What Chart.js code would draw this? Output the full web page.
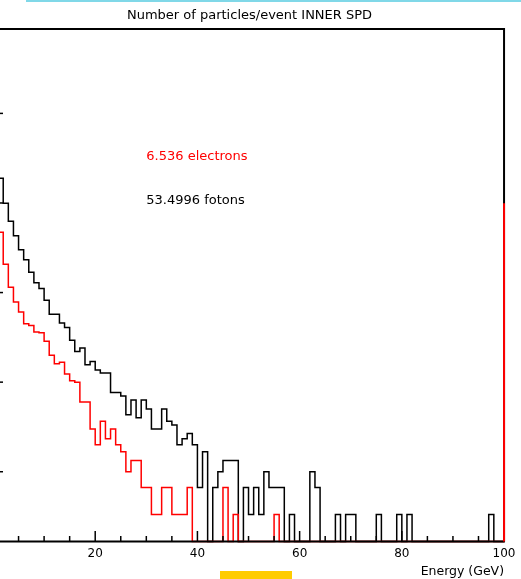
<!DOCTYPE html>
<html>
<head>
<meta charset="utf-8">
<script src="https://cdn.jsdelivr.net/npm/chart.js@4.4.0/dist/chart.umd.min.js"></script>
<style>
    html, body { margin: 0; padding: 0; background: #fff; }
    #page { position: relative; width: 521px; height: 579px; overflow: hidden; background: #fff; }
    #chart { position: absolute; left: -20px; top: 0; }
    #topLine { position: absolute; left: 26px; top: 0; width: 495px; height: 2px; background: #80d8e8; }
    #yellowBar { position: absolute; left: 220px; top: 571px; width: 72px; height: 8px; background: #ffcc00; }
</style>
</head>
<body>
<div id="page">
    <canvas id="chart" width="541" height="579"></canvas>
    <div id="topLine"></div>
    <div id="yellowBar"></div>
</div>
<script>
// 1 GeV bins from 0 to 100 GeV, counts per bin
const binEdges = Array.from({ length: 101 }, (_, i) => i)

const fotonCounts = [
    12000, 5680, 2985, 1879, 1294, 902, 698, 506, 386, 333,
    246, 172, 172, 137, 122, 88, 66, 72, 47, 51,
    41, 38, 38, 23, 23, 21, 13, 19, 12, 19,
    15, 9, 9, 15, 11, 10, 6, 7, 8, 6,
    2, 5, 0, 2, 3, 4, 4, 4, 0, 2,
    1, 2, 1, 3, 2, 2, 2, 0, 1, 0,
    0, 0, 3, 2, 0, 0, 0, 1, 0, 1,
    1, 0, 0, 0, 0, 1, 0, 0, 0, 1,
    0, 1, 0, 0, 0, 0, 0, 0, 0, 0,
    0, 0, 0, 0, 0, 0, 0, 1, 0, 0,
]

const electronCounts = [
    3500, 1416, 621, 344, 236, 182, 135, 129, 109, 107,
    86, 60, 48, 50, 37, 31, 30, 18, 18, 9,
    6, 11, 7, 9, 6, 5, 3, 4, 4, 2,
    2, 1, 1, 2, 2, 1, 1, 1, 2, 0,
    0, 0, 0, 0, 0, 2, 0, 1, 0, 0,
    0, 0, 0, 0, 0, 1, 0, 0, 0, 0,
    0, 0, 0, 0, 0, 0, 0, 0, 0, 0,
    0, 0, 0, 0, 0, 0, 0, 0, 0, 0,
    0, 0, 0, 0, 0, 0, 0, 0, 0, 0,
    0, 0, 0, 0, 0, 0, 0, 0, 0, 0,
]

// red line running up the 100 GeV edge
const electronEdge = [0, 2985]

const eventWeight = 1 / 3
const yMin = 0.1664
const yMax = 87500
const yTickValues = [1, 10, 100, 1000, 10000]
const xTickStep = 20

const title = 'Number of particles/event INNER SPD'
const electronLabel = '6.536 electrons'
const fotonLabel = '53.4996 fotons'

Chart.defaults.font.family = "'DejaVu Sans', sans-serif"
Chart.defaults.color = '#000'

/**
 * @name toSteps
 * @description Turn bin counts into points on the bin low edges.
 */
function toSteps(counts) {
    return binEdges.map(function (e, i) {
        const c = counts[Math.min(i, counts.length - 1)]
        return { x: e, y: c > 0 ? c * eventWeight : yMin }
    })
}

const rootFrame = {
    id: 'rootFrame',
    beforeDatasetsDraw(chart) {
        const ctx = chart.ctx
        const a = chart.chartArea
        ctx.save()
        ctx.strokeStyle = '#000'
        ctx.lineWidth = 2
        ctx.beginPath()
        ctx.moveTo(a.left, a.bottom)
        ctx.lineTo(a.left, a.top)
        ctx.lineTo(a.right, a.top)
        ctx.lineTo(a.right, a.bottom)
        ctx.stroke()
        ctx.restore()
    },
    afterDatasetsDraw(chart) {
        const ctx = chart.ctx
        const a = chart.chartArea
        const x = chart.scales.x
        const y = chart.scales.y
        ctx.save()
        ctx.strokeStyle = '#000'

        // x axis line drawn over the empty bins, like ROOT does
        ctx.lineWidth = 2
        ctx.beginPath()
        ctx.moveTo(a.left, a.bottom)
        ctx.lineTo(a.right + 1, a.bottom)
        ctx.stroke()

        // ticks point into the frame
        ctx.lineWidth = 1.5
        for (let e = 5; e < 100; e += 5) {
            const px = x.getPixelForValue(e)
            const len = e % xTickStep === 0 ? 10.5 : 5.5
            ctx.beginPath()
            ctx.moveTo(px, a.bottom)
            ctx.lineTo(px, a.bottom - len)
            ctx.stroke()
        }
        yTickValues.forEach(function (v) {
            const py = y.getPixelForValue(v)
            ctx.beginPath()
            ctx.moveTo(a.left, py)
            ctx.lineTo(a.left + 10, py)
            ctx.stroke()
        })

        // red edge at 100 GeV sits on top of the frame
        ctx.strokeStyle = '#ff0000'
        ctx.lineWidth = 2
        ctx.beginPath()
        ctx.moveTo(x.getPixelForValue(100), y.getPixelForValue(yMin))
        ctx.lineTo(x.getPixelForValue(100), y.getPixelForValue(electronEdge[1] * eventWeight))
        ctx.stroke()

        ctx.font = "13px 'DejaVu Sans', sans-serif"
        ctx.textAlign = 'left'
        ctx.textBaseline = 'middle'
        ctx.fillStyle = '#ff0000'
        ctx.fillText(electronLabel, x.getPixelForValue(30), y.getPixelForValue(3250))
        ctx.fillStyle = '#000'
        ctx.fillText(fotonLabel, x.getPixelForValue(30), y.getPixelForValue(1075))
        ctx.restore()
    },
}

const ctx = document.getElementById('chart').getContext('2d')
const myChart = new Chart(ctx, {
    type: 'line',
    data: {
        datasets: [
            {
                label: 'electrons',
                data: toSteps(electronCounts),
                borderColor: '#ff0000',
                borderWidth: 1.5,
                pointRadius: 0,
                stepped: true,
                clip: false,
            },
            {
                label: 'fotons',
                data: toSteps(fotonCounts),
                borderColor: '#000',
                borderWidth: 1.5,
                pointRadius: 0,
                stepped: true,
                clip: false,
            },
        ],
    },
    options: {
        responsive: false,
        animation: false,
        devicePixelRatio: 1,
        layout: { padding: { left: 13, right: 15, top: 0, bottom: 0 } },
        plugins: {
            legend: { display: false },
            tooltip: { enabled: false },
            title: {
                display: true,
                text: title,
                color: '#000',
                font: { size: 13, weight: 'normal' },
                padding: { top: 7.4, bottom: 6 },
            },
        },
        scales: {
            x: {
                type: 'linear',
                min: 0,
                max: 100,
                grid: { display: false, drawTicks: false },
                border: { display: false },
                ticks: { stepSize: xTickStep, padding: 5.5, maxRotation: 0, font: { size: 12 } },
                title: {
                    display: true,
                    text: 'Energy (GeV)',
                    align: 'end',
                    font: { size: 12.5 },
                    padding: { top: -2.4, bottom: -0.5 },
                },
            },
            y: {
                type: 'logarithmic',
                display: false,
                min: yMin,
                max: yMax,
            },
        },
    },
    plugins: [rootFrame],
})
</script>
</body>
</html>
